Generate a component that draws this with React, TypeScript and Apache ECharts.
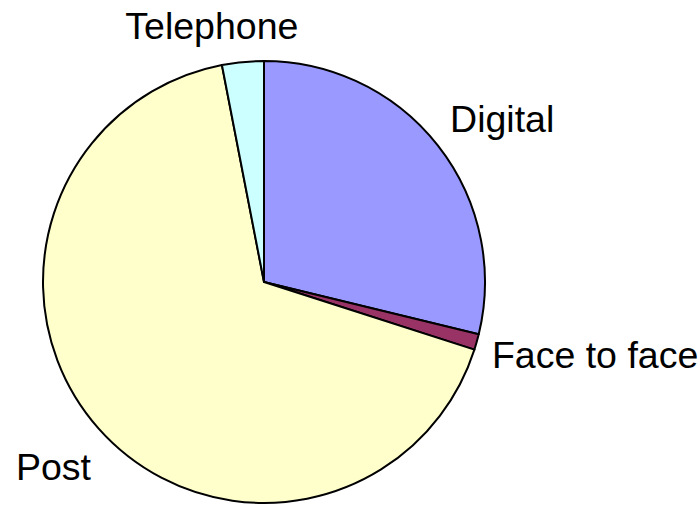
import React, { useEffect, useRef } from "react";
import * as echarts from "echarts";

const categories = ["Digital", "Face to face", "Post", "Telephone"];
const shares = [28.8, 1.15, 67.0, 3.05];
const colors = ["#9999FF", "#993366", "#FFFFCC", "#CCFFFF"];
// per-label placement tuning (radial length, horizontal length)
const labelLen = [43.6, 48, 57.8, 36.2];
const labelLen2 = [-27, -36, -40.6, -64];

export default function App() {
  const ref = useRef<HTMLDivElement>(null);
  useEffect(() => {
    if (!ref.current) return;
    const chart = echarts.init(ref.current, null, { renderer: "svg" });
    chart.setOption({
      animation: false,
      backgroundColor: "#ffffff",
      series: [
        {
          type: "pie",
          center: [264, 282],
          radius: 221,
          startAngle: 90,
          clockwise: true,
          avoidLabelOverlap: false,
          label: {
            show: true,
            position: "outside",
            color: "#000",
            fontFamily: "Liberation Sans, Arial, sans-serif",
            fontSize: 37.5,
            distanceToLabelLine: 5,
            overflow: "none",
          },
          labelLine: { show: false },
          itemStyle: { borderColor: "#000", borderWidth: 2 },
          emphasis: { disabled: true },
          data: categories.map((name, i) => ({
            name,
            value: shares[i],
            itemStyle: { color: colors[i] },
            labelLine: { show: false, length: labelLen[i], length2: labelLen2[i] },
          })),
        },
      ],
    });
    return () => chart.dispose();
  }, []);
  return (
    <div
      ref={ref}
      style={{ position: "absolute", left: 0, top: 0, width: 700, height: 505 }}
    />
  );
}
